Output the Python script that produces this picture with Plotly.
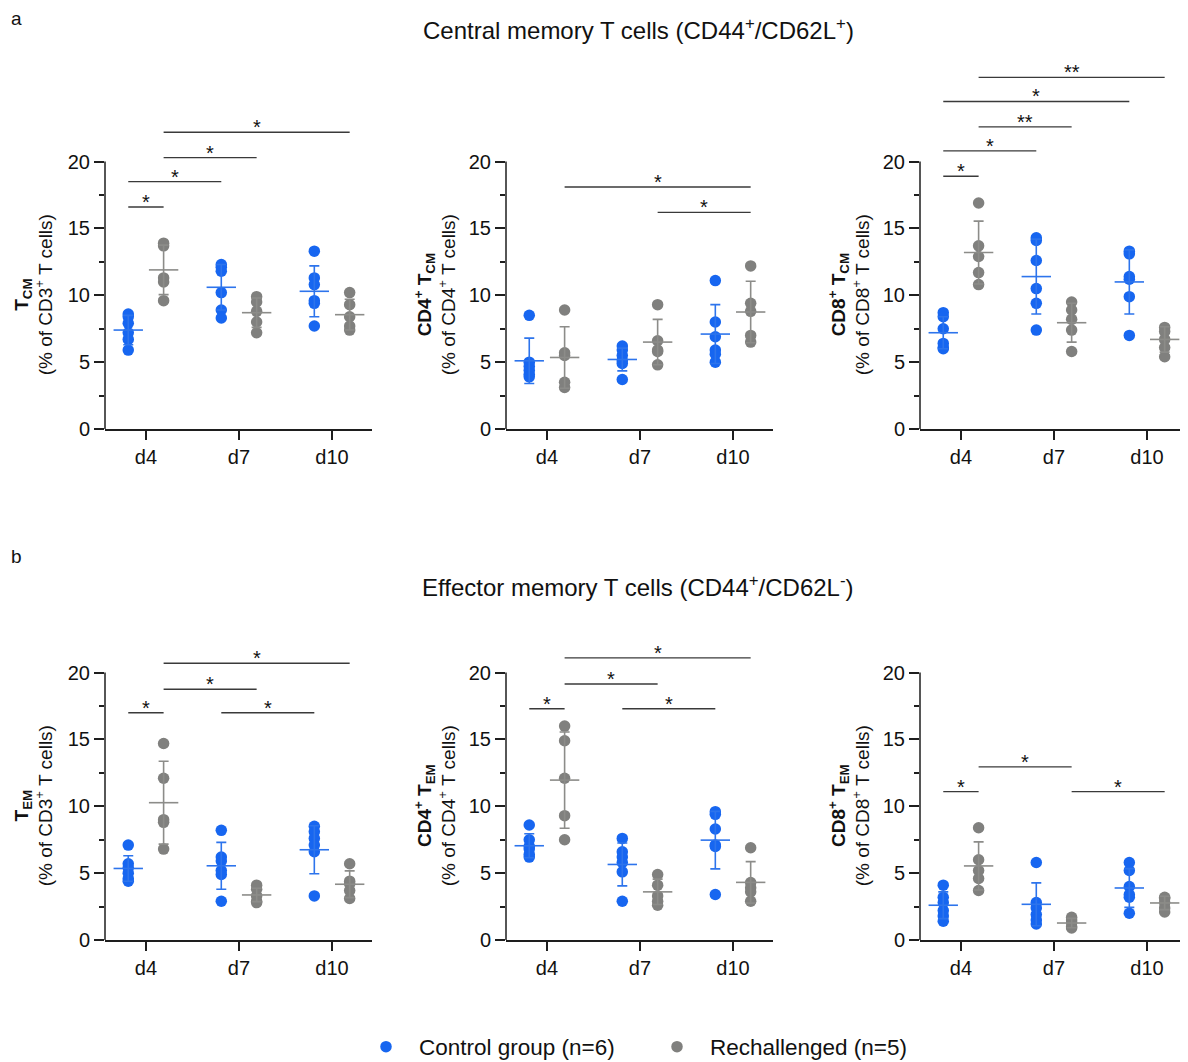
import plotly.graph_objects as go

# ---------------- data ----------------
days = ["d4", "d7", "d10"]
group_names = ["Control group (n=6)", "Rechallenged (n=5)"]

# a, left: T_CM (% of CD3+ T cells)
tcm_ctrl = [[8.6, 8.4, 7.9, 7.2, 6.7, 5.9],
            [12.3, 12.1, 11.8, 10.2, 8.9, 8.3],
            [13.3, 11.3, 10.8, 9.6, 9.4, 7.7]]
tcm_ctrl_mean = [7.4, 10.6, 10.3]
tcm_ctrl_sd = [1.1, 1.7, 1.9]
tcm_rech = [[13.9, 13.7, 11.3, 11.0, 9.6],
            [9.9, 9.5, 8.8, 8.0, 7.2],
            [10.2, 9.3, 8.4, 7.7, 7.4]]
tcm_rech_mean = [11.9, 8.7, 8.55]
tcm_rech_sd = [1.85, 1.1, 1.15]
# (group_a, day_a, group_b, day_b, level, label)
tcm_sig = [(0, 0, 1, 0, 16.6, "*"), (0, 0, 0, 1, 18.5, "*"),
           (1, 0, 1, 1, 20.3, "*"), (1, 0, 1, 2, 22.2, "*")]

# a, middle: CD4+ T_CM
cd4_tcm_ctrl = [[8.5, 5.0, 4.7, 4.4, 4.1, 3.9],
                [6.2, 5.9, 5.5, 5.1, 4.9, 3.7],
                [11.1, 8.0, 6.9, 5.9, 5.6, 5.0]]
cd4_tcm_ctrl_mean = [5.1, 5.2, 7.1]
cd4_tcm_ctrl_sd = [1.7, 0.85, 2.2]
cd4_tcm_rech = [[8.9, 5.7, 5.5, 3.5, 3.1],
                [9.3, 6.6, 5.9, 5.8, 4.8],
                [12.2, 9.4, 8.8, 7.0, 6.5]]
cd4_tcm_rech_mean = [5.35, 6.5, 8.75]
cd4_tcm_rech_sd = [2.3, 1.7, 2.3]
cd4_tcm_sig = [(1, 0, 1, 2, 18.1, "*"), (1, 1, 1, 2, 16.2, "*")]

# a, right: CD8+ T_CM
cd8_tcm_ctrl = [[8.7, 8.4, 7.5, 6.4, 6.1, 6.0],
                [14.3, 14.1, 12.6, 10.5, 9.4, 7.4],
                [13.3, 13.1, 11.4, 11.2, 9.9, 7.0]]
cd8_tcm_ctrl_mean = [7.2, 11.4, 11.0]
cd8_tcm_ctrl_sd = [1.2, 2.8, 2.4]
cd8_tcm_rech = [[16.9, 13.7, 12.9, 11.7, 10.8],
                [9.5, 8.9, 8.2, 7.4, 5.8],
                [7.6, 7.3, 6.7, 6.1, 5.4]]
cd8_tcm_rech_mean = [13.2, 7.95, 6.7]
cd8_tcm_rech_sd = [2.35, 1.45, 0.95]
cd8_tcm_sig = [(0, 0, 1, 0, 18.9, "*"), (0, 0, 0, 1, 20.8, "*"),
               (1, 0, 1, 1, 22.6, "**"), (0, 0, 0, 2, 24.5, "*"),
               (1, 0, 1, 2, 26.3, "**")]

# b, left: T_EM (% of CD3+ T cells)
tem_ctrl = [[7.1, 5.7, 5.4, 5.0, 4.6, 4.4],
            [8.2, 6.2, 5.9, 5.2, 4.9, 2.9],
            [8.5, 8.1, 7.6, 7.1, 6.6, 3.3]]
tem_ctrl_mean = [5.35, 5.55, 6.75]
tem_ctrl_sd = [0.95, 1.75, 1.8]
tem_rech = [[14.7, 12.1, 9.0, 8.8, 6.8],
            [4.1, 3.8, 3.3, 2.9, 2.8],
            [5.7, 4.4, 4.2, 3.7, 3.1]]
tem_rech_mean = [10.27, 3.37, 4.17]
tem_rech_sd = [3.1, 0.5, 1.0]
tem_sig = [(0, 0, 1, 0, 17.0, "*"), (1, 0, 1, 1, 18.75, "*"),
           (0, 1, 0, 2, 17.0, "*"), (1, 0, 1, 2, 20.7, "*")]

# b, middle: CD4+ T_EM
cd4_tem_ctrl = [[8.6, 7.5, 7.0, 6.8, 6.4, 6.2],
                [7.6, 6.6, 6.2, 5.8, 5.1, 2.9],
                [9.6, 9.4, 8.3, 7.1, 7.0, 3.4]]
cd4_tem_ctrl_mean = [7.05, 5.65, 7.47]
cd4_tem_ctrl_sd = [0.9, 1.6, 2.15]
cd4_tem_rech = [[16.0, 14.9, 12.1, 9.3, 7.5],
                [4.9, 4.1, 3.3, 2.9, 2.6],
                [6.9, 4.3, 3.9, 3.6, 2.9]]
cd4_tem_rech_mean = [11.96, 3.6, 4.31]
cd4_tem_rech_sd = [3.6, 0.95, 1.55]
cd4_tem_sig = [(0, 0, 1, 0, 17.3, "*"), (1, 0, 1, 1, 19.15, "*"),
               (0, 1, 0, 2, 17.3, "*"), (1, 0, 1, 2, 21.1, "*")]

# b, right: CD8+ T_EM
cd8_tem_ctrl = [[4.1, 3.2, 2.8, 2.2, 1.8, 1.4],
                [5.8, 2.8, 2.4, 1.9, 1.5, 1.2],
                [5.8, 5.2, 4.0, 3.4, 3.2, 2.0]]
cd8_tem_ctrl_mean = [2.6, 2.67, 3.89]
cd8_tem_ctrl_sd = [1.0, 1.6, 1.45]
cd8_tem_rech = [[8.4, 6.0, 5.2, 4.6, 3.7],
                [1.7, 1.5, 1.3, 1.0, 0.9],
                [3.2, 3.1, 2.8, 2.4, 2.1]]
cd8_tem_rech_mean = [5.54, 1.27, 2.77]
cd8_tem_rech_sd = [1.8, 0.35, 0.5]
cd8_tem_sig = [(0, 0, 1, 0, 11.1, "*"), (1, 0, 1, 1, 12.95, "*"),
               (1, 1, 1, 2, 11.1, "*")]

y_ticks = [0, 5, 10, 15, 20]
y_minor = [2.5, 7.5, 12.5, 17.5]

panel_titles = [
    "<b>T<sub>CM</sub></b><br>(% of CD3<sup>+</sup> T cells)",
    "<b>CD4<sup>+</sup> T<sub>CM</sub></b><br>(% of CD4<sup>+</sup> T cells)",
    "<b>CD8<sup>+</sup> T<sub>CM</sub></b><br>(% of CD8<sup>+</sup> T cells)",
    "<b>T<sub>EM</sub></b><br>(% of CD3<sup>+</sup> T cells)",
    "<b>CD4<sup>+</sup> T<sub>EM</sub></b><br>(% of CD4<sup>+</sup> T cells)",
    "<b>CD8<sup>+</sup> T<sub>EM</sub></b><br>(% of CD8<sup>+</sup> T cells)",
]
section_titles = ["Central memory T cells (CD44<sup>+</sup>/CD62L<sup>+</sup>)",
                  "Effector memory T cells (CD44<sup>+</sup>/CD62L<sup>-</sup>)"]
section_letters = ["a", "b"]

panels = [
    (tcm_ctrl, tcm_ctrl_mean, tcm_ctrl_sd, tcm_rech, tcm_rech_mean, tcm_rech_sd, tcm_sig),
    (cd4_tcm_ctrl, cd4_tcm_ctrl_mean, cd4_tcm_ctrl_sd, cd4_tcm_rech, cd4_tcm_rech_mean, cd4_tcm_rech_sd, cd4_tcm_sig),
    (cd8_tcm_ctrl, cd8_tcm_ctrl_mean, cd8_tcm_ctrl_sd, cd8_tcm_rech, cd8_tcm_rech_mean, cd8_tcm_rech_sd, cd8_tcm_sig),
    (tem_ctrl, tem_ctrl_mean, tem_ctrl_sd, tem_rech, tem_rech_mean, tem_rech_sd, tem_sig),
    (cd4_tem_ctrl, cd4_tem_ctrl_mean, cd4_tem_ctrl_sd, cd4_tem_rech, cd4_tem_rech_mean, cd4_tem_rech_sd, cd4_tem_sig),
    (cd8_tem_ctrl, cd8_tem_ctrl_mean, cd8_tem_ctrl_sd, cd8_tem_rech, cd8_tem_rech_mean, cd8_tem_rech_sd, cd8_tem_sig),
]

# ---------------- style / layout constants ----------------
PAGE_OFF = 8                      # default body margin of the html page
W, H = 1188 - PAGE_OFF, 1062 - PAGE_OFF
FONT = "Liberation Sans, Arial, Helvetica, sans-serif"
TXT = "#111111"
DOT_COLORS = ["#1766F0", "#80807E"]
BAR_COLORS = ["#2D74EC", "#8C8C89"]
SIG_COLOR = "#3A3A3A"
AXIS_COLOR = "#1E1E1E"
OFFSET = 0.19
XRANGE = [-0.44, 2.43]
COL_LEFT = [105, 506, 920]        # screen px of y axes
PLOT_W = 267
PX_PER_UNIT = 13.37
ROW_ZERO = [429, 940]             # screen px of y = 0
ROW_YMAX = [27.4, 22.2]


def fx(px):
    return (px - PAGE_OFF) / W


def fy(py):
    return 1 - (py - PAGE_OFF) / H


fig = go.Figure()
layout_axes = {}
shapes = []
annotations = []

for p, (ctrl, cmean, csd, rech, rmean, rsd, sig) in enumerate(panels):
    row, col = divmod(p, 3)
    n = p + 1
    xa = "x" if n == 1 else f"x{n}"
    ya = "y" if n == 1 else f"y{n}"
    xkey = "xaxis" if n == 1 else f"xaxis{n}"
    ykey = "yaxis" if n == 1 else f"yaxis{n}"
    left = COL_LEFT[col]
    zero_px = ROW_ZERO[row]
    ymax = ROW_YMAX[row]
    top_px = zero_px - ymax * PX_PER_UNIT
    layout_axes[xkey] = dict(
        domain=[fx(left), fx(left + PLOT_W)], anchor=ya, range=XRANGE,
        tickvals=[0, 1, 2], ticktext=days, ticks="outside", ticklen=9,
        tickwidth=1.5, tickcolor=AXIS_COLOR, showline=True, linecolor=AXIS_COLOR,
        linewidth=1.5, showgrid=False, zeroline=False,
        tickfont=dict(size=20, color=TXT, family=FONT), fixedrange=True)
    layout_axes[ykey] = dict(
        domain=[fy(zero_px), fy(top_px)], anchor=xa, range=[0, ymax],
        tickvals=y_ticks, ticks="outside", ticklen=10, tickwidth=1.5,
        tickcolor=AXIS_COLOR, showline=False, showgrid=False, zeroline=False,
        tickfont=dict(size=20, color=TXT, family=FONT), fixedrange=True,
        minor=dict(tickvals=y_minor, ticks="outside", ticklen=5, tickwidth=1.5,
                   tickcolor=AXIS_COLOR, showgrid=False))
    # y axis line that stops at 20
    shapes.append(dict(type="line", xref=f"{xa} domain", yref=f"{ya} domain",
                       x0=0, x1=0, y0=0, y1=y_ticks[-1] / ymax,
                       line=dict(color=AXIS_COLOR, width=1.5)))
    # y axis title
    annotations.append(dict(text=panel_titles[p], textangle=-90, xref="paper", yref=ya,
                            x=fx(left - 71), y=y_ticks[-1] / 2, xanchor="center",
                            yanchor="middle", showarrow=False,
                            font=dict(size=19, color=TXT, family=FONT)))

    for g, (vals, means, sds) in enumerate([(ctrl, cmean, csd), (rech, rmean, rsd)]):
        sign = -1 if g == 0 else 1
        xs, ys = [], []
        for d, dv in enumerate(vals):
            xs += [d + sign * OFFSET] * len(dv)
            ys += dv
        fig.add_trace(go.Scatter(
            x=xs, y=ys, xaxis=xa, yaxis=ya, mode="markers",
            marker=dict(size=11.5, color=DOT_COLORS[g], line=dict(width=0)),
            name=group_names[g], showlegend=(p == 0), legendgroup=f"g{g}",
            hoverinfo="skip"))
        fig.add_trace(go.Scatter(
            x=[d + sign * OFFSET for d in range(len(days))], y=means,
            xaxis=xa, yaxis=ya, mode="markers",
            marker=dict(symbol="line-ew", size=21,
                        line=dict(color=BAR_COLORS[g], width=1.6)),
            error_y=dict(type="data", array=sds, visible=True, width=5,
                         thickness=1.6, color=BAR_COLORS[g]),
            showlegend=False, hoverinfo="skip"))

    for (ga, da, gb, db, level, label) in sig:
        xa0 = da + (-OFFSET if ga == 0 else OFFSET)
        xb0 = db + (-OFFSET if gb == 0 else OFFSET)
        fig.add_trace(go.Scatter(
            x=[xa0, xb0], y=[level, level], xaxis=xa, yaxis=ya, mode="lines",
            line=dict(color=SIG_COLOR, width=1.4), showlegend=False, hoverinfo="skip"))
        annotations.append(dict(text=label, xref=xa, yref=ya, x=(xa0 + xb0) / 2, y=level,
                                xanchor="center", yanchor="bottom", yshift=-8,
                                showarrow=False,
                                font=dict(size=20, color=TXT, family=FONT)))

# section titles and letters
for r, (t, letter) in enumerate(zip(section_titles, section_letters)):
    ty = [29, 586][r]
    ly = [18, 556][r]
    annotations.append(dict(text=t, xref="paper", yref="paper", x=fx(638), y=fy(ty),
                            xanchor="center", yanchor="middle", showarrow=False,
                            font=dict(size=24, color=TXT, family=FONT)))
    annotations.append(dict(text=letter, xref="paper", yref="paper", x=fx(9), y=fy(ly),
                            xanchor="left", yanchor="middle", showarrow=False,
                            font=dict(size=19, color=TXT, family=FONT)))

fig.update_layout(
    width=W, height=H,
    margin=dict(l=0, r=0, t=0, b=0, autoexpand=False),
    paper_bgcolor="white", plot_bgcolor="white",
    font=dict(family=FONT, color=TXT),
    shapes=shapes, annotations=annotations,
    legend=dict(orientation="h", x=fx(353), y=fy(1047), xanchor="left",
                yanchor="middle", itemwidth=56, entrywidth=220,
                entrywidthmode="pixels",
                font=dict(size=22.5, color=TXT, family=FONT),
                bgcolor="rgba(0,0,0,0)"),
    **layout_axes)

fig.write_html("out.html")
